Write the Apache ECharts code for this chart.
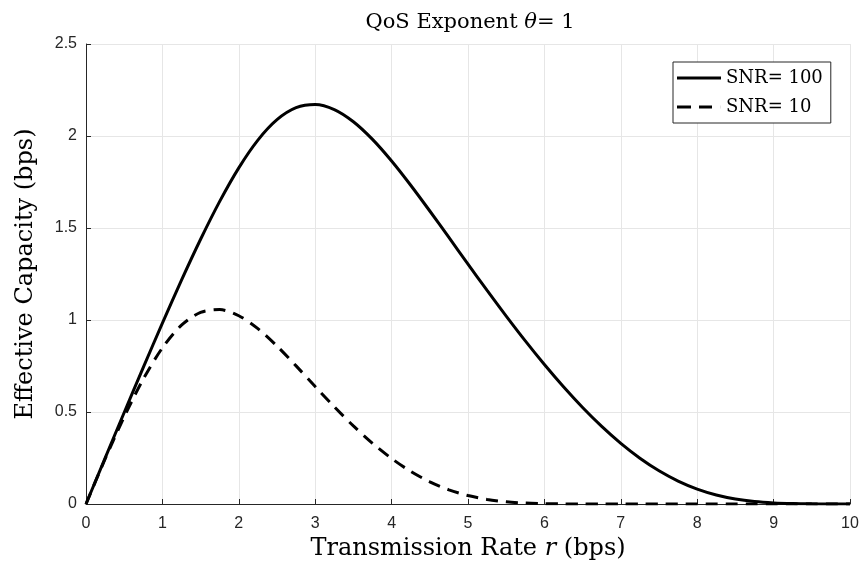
<!DOCTYPE html>
<html>
<head>
<meta charset="utf-8">
<script src="https://cdn.jsdelivr.net/npm/echarts@6/dist/echarts.min.js"></script>
<style>
  html, body { margin: 0; padding: 0; background: #fff; }
  #chart { width: 862px; height: 568px; }
</style>
</head>
<body>
<div id="chart"></div>
<script>
// Transmission rate r (bps), sampled every 0.25
const rates = [0, 0.25, 0.5, 0.75, 1, 1.25, 1.5, 1.75, 2, 2.25, 2.5, 2.75, 3, 3.25, 3.5, 3.75,
  4, 4.25, 4.5, 4.75, 5, 5.25, 5.5, 5.75, 6, 6.25, 6.5, 6.75, 7, 7.25, 7.5, 7.75,
  8, 8.25, 8.5, 8.75, 9, 9.25, 9.5, 9.75, 10];

// Effective capacity (bps), SNR = 100
const capSnr100 = [0, 0.2495, 0.4973, 0.7424, 0.9830, 1.2165, 1.4388, 1.6447, 1.8270, 1.9777,
  2.0887, 2.1539, 2.1713, 2.1437, 2.0775, 1.9815, 1.8640, 1.7323, 1.5924, 1.4485,
  1.3038, 1.1607, 1.0210, 0.8862, 0.7577, 0.6367, 0.5242, 0.4214, 0.3293, 0.2488,
  0.1806, 0.1248, 0.0813, 0.0493, 0.0274, 0.0137, 0.0061, 0.0023, 0.0007, 0.0002, 0.0000];

// Effective capacity (bps), SNR = 10
const capSnr10 = [0, 0.2447, 0.4740, 0.6790, 0.8486, 0.9719, 1.0414, 1.0564, 1.0232, 0.9530,
  0.8584, 0.7506, 0.6384, 0.5281, 0.4243, 0.3300, 0.2472, 0.1773, 0.1207, 0.0772,
  0.0458, 0.0248, 0.0120, 0.0051, 0.0018, 0.0006, 0.0001, 0, 0, 0,
  0, 0, 0, 0, 0, 0, 0, 0, 0, 0, 0];

const seriesNames = ['SNR= 100', 'SNR= 10'];
const xTicks = [0, 1, 2, 3, 4, 5, 6, 7, 8, 9, 10];
const yTicks = [0, 0.5, 1, 1.5, 2, 2.5];

const axisColor = '#262626';
const gridColor = '#e6e6e6';
const serif = '"DejaVu Serif", "Liberation Serif", serif';
const sans = '"Liberation Sans", Arial, sans-serif';

// legend keys: a solid bar and a two-dash bar
const solidKey = 'path://M0,0H44V3H0Z';
const dashedKey = 'path://M0,0H14V3H0Z M22,0H35V3H22Z M43.9,0H44V3H43.9Z';

const pairs = (ys) => rates.map((r, i) => [r, ys[i]]);

const chart = echarts.init(document.getElementById('chart'), null, { renderer: 'canvas' });

chart.setOption({
  animation: false,
  backgroundColor: '#ffffff',
  title: {
    text: 'QoS Exponent {i|θ}= 1',
    left: 465,
    textAlign: 'center',
    top: 7,
    textStyle: {
      fontFamily: serif,
      fontSize: 21,
      fontWeight: 'normal',
      color: '#000',
      rich: {
        i: { fontFamily: serif, fontSize: 21, fontStyle: 'italic', color: '#000' }
      }
    }
  },
  legend: {
    orient: 'vertical',
    left: 673,
    top: 62,
    padding: [6, 8, 6, 4],
    itemGap: 9,
    itemWidth: 44,
    itemHeight: 3,
    backgroundColor: '#ffffff',
    borderColor: '#262626',
    borderWidth: 1,
    borderRadius: 0,
    data: [
      { name: seriesNames[0], icon: solidKey },
      { name: seriesNames[1], icon: dashedKey }
    ],
    textStyle: { fontFamily: serif, fontSize: 18, color: '#000', height: 20, lineHeight: 20 }
  },
  grid: { left: 86, right: 12, top: 44, bottom: 64, containLabel: false },
  xAxis: {
    type: 'value',
    min: 0,
    max: 10,
    interval: 1,
    name: 'Transmission Rate {i|r} (bps)',
    nameLocation: 'middle',
    nameGap: 31,
    nameTextStyle: {
      fontFamily: serif,
      fontSize: 24,
      color: '#000',
      rich: { i: { fontFamily: serif, fontSize: 24, fontStyle: 'italic', color: '#000' } }
    },
    axisLine: { show: true, onZero: false, lineStyle: { color: axisColor, width: 1 } },
    axisTick: { show: true, inside: true, length: 5, lineStyle: { color: axisColor } },
    axisLabel: {
      margin: 12,
      fontFamily: sans,
      fontSize: 16,
      color: axisColor,
      formatter: (v) => (xTicks.includes(v) ? String(v) : '')
    },
    splitLine: { show: true, lineStyle: { color: gridColor, width: 1 } }
  },
  yAxis: {
    type: 'value',
    min: 0,
    max: 2.5,
    interval: 0.5,
    name: 'Effective Capacity (bps)',
    nameLocation: 'middle',
    nameGap: 48,
    nameTextStyle: { fontFamily: serif, fontSize: 24, color: '#000' },
    axisLine: { show: true, lineStyle: { color: axisColor, width: 1 } },
    axisTick: { show: true, inside: true, length: 5, lineStyle: { color: axisColor } },
    axisLabel: {
      margin: 9,
      fontFamily: sans,
      fontSize: 16,
      color: axisColor,
      formatter: (v) => (yTicks.includes(v) ? String(v) : '')
    },
    splitLine: { show: true, lineStyle: { color: gridColor, width: 1 } }
  },
  series: [
    {
      name: seriesNames[0],
      type: 'line',
      data: pairs(capSnr100),
      showSymbol: false,
      smooth: 0.3,
      lineStyle: { color: '#000', width: 3, type: 'solid' },
      itemStyle: { color: '#000' }
    },
    {
      name: seriesNames[1],
      type: 'line',
      data: pairs(capSnr10),
      showSymbol: false,
      smooth: 0.3,
      lineStyle: { color: '#000', width: 3, type: [12, 8] },
      itemStyle: { color: '#000' }
    }
  ]
});
</script>
</body>
</html>
